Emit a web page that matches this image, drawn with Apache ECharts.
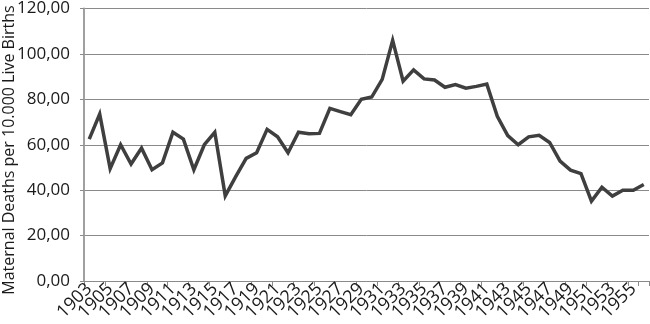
<!DOCTYPE html>
<html>
<head>
<meta charset="utf-8">
<script src="https://cdn.jsdelivr.net/npm/echarts@6/dist/echarts.min.js"></script>
<style>html,body{margin:0;padding:0;background:#fff;}#c{width:650px;height:324px;}</style>
</head>
<body>
<div id="c"></div>
<script>
var years = [];
for (var y = 1903; y <= 1956; y++) years.push(String(y));
var rates = [62.5, 73.5, 49.5, 60, 51.5, 58.5, 49, 52, 65.5, 62.5,
             49, 60, 65.5, 37.5, 46, 54, 56.5, 66.8, 63.5, 56.5,
             65.5, 64.8, 65, 76, 74.6, 73.2, 80, 81, 88.8, 106,
             88, 93, 89, 88.5, 85.3, 86.5, 84.9, 85.7, 86.7, 72.5,
             64, 60, 63.5, 64.2, 61, 52.8, 48.8, 47.3, 35.2, 41.3,
             37.4, 40, 40, 42.5];
var yTitle = 'Maternal Deaths per 10.000 Live Births';
var font = 'Open Sans';
var chart = echarts.init(document.getElementById('c'), null, {renderer: 'canvas'});
chart.setOption({
  animation: false,
  grid: {left: 84, right: 1, top: 5, bottom: 43, containLabel: false},
  graphic: [{
    type: 'text',
    x: 9, y: 150,
    rotation: Math.PI / 2,
    style: {text: yTitle, fill: '#1a1a1a', font: '16px "Open Sans"', align: 'center', verticalAlign: 'middle'}
  }],
  xAxis: {
    type: 'category',
    data: years,
    boundaryGap: true,
    axisLine: {lineStyle: {color: '#8a8a8a', width: 1}},
    axisTick: {show: true, interval: 1, length: 5, lineStyle: {color: '#8a8a8a'}},
    axisLabel: {
      interval: 0,
      showMinLabel: true, showMaxLabel: true, hideOverlap: false,
      formatter: function (v, idx) { return idx % 2 === 0 ? v : ''; },
      rotate: 45, color: '#1a1a1a', fontFamily: font, fontSize: 18, lineHeight: 12, margin: 5
    }
  },
  yAxis: {
    type: 'value',
    min: 0, max: 120, interval: 20,
    axisLine: {show: true, lineStyle: {color: '#a0a0a0', width: 2}},
    axisTick: {show: true, length: 4, lineStyle: {color: '#8a8a8a'}},
    splitLine: {lineStyle: {color: '#8a8a8a', width: 1}},
    axisLabel: {color: '#1a1a1a', fontFamily: font, fontSize: 17, margin: 14,
      formatter: function (v) { return v.toFixed(2).replace('.', ','); }}
  },
  series: [{
    type: 'line',
    data: rates,
    symbol: 'none',
    lineStyle: {color: '#3f3f3f', width: 3.5, join: 'miter'}
  }]
});
</script>
</body>
</html>
